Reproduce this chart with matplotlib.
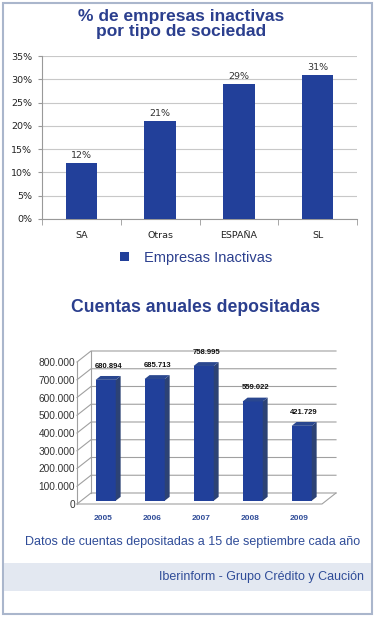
import matplotlib
matplotlib.use("Agg")
import matplotlib.pyplot as plt
from matplotlib.patches import Rectangle, Polygon
from matplotlib.ticker import FuncFormatter

# data
tipos = ["SA", "Otras", "ESPAÑA", "SL"]
pct_inactivas = [0.12, 0.21, 0.29, 0.31]
pct_labels = ["12%", "21%", "29%", "31%"]

years = ["2005", "2006", "2007", "2008", "2009"]
cuentas = [680894, 685713, 758995, 559022, 421729]

W, H = 375, 619
NAVY = "#2b3f8e"
BAR = "#22409a"
TXT_BLUE = "#2f4c98"

fig = plt.figure(figsize=(W / 100, H / 100), dpi=100)
fig.patch.set_facecolor("white")


def fx(px):
    return px / W


def fy(px):
    return 1 - px / H


def axes_px(l, t, r, b):
    return fig.add_axes([fx(l), fy(b), fx(r) - fx(l), fy(t) - fy(b)])


# frame + footer band
fig.patches.append(Rectangle((fx(3), fy(614)), fx(369), fy(3) - fy(614),
                             transform=fig.transFigure, fill=False,
                             edgecolor="#aab6cc", lw=1.5))
fig.patches.append(Rectangle((fx(4), fy(591)), fx(367), fy(563) - fy(591),
                             transform=fig.transFigure, facecolor="#e3e8f1",
                             edgecolor="none"))

# ---------- chart 1 ----------
fig.text(fx(181), fy(24), "% de empresas inactivas\npor tipo de sociedad",
         ha="center", va="center", fontsize=12.5, fontweight="bold",
         color=NAVY, family="Liberation Sans", linespacing=0.95)

ax1 = axes_px(42, 56, 357, 219)
x1 = range(len(tipos))
bars = ax1.bar(x1, pct_inactivas, width=0.4, color=BAR, zorder=3,
               label="Empresas Inactivas")
for i, v in enumerate(pct_inactivas):
    ax1.text(i, v + 0.006, pct_labels[i], ha="center", va="bottom",
             fontsize=6.8, color="#333333")
ax1.set_xlim(-0.5, 3.5)
ax1.set_ylim(0, 0.35)
ax1.set_yticks([i * 0.05 for i in range(8)])
ax1.yaxis.set_major_formatter(FuncFormatter(lambda v, p: f"{v * 100:.0f}%"))
ax1.set_xticks(list(x1))
ax1.set_xticklabels(tipos)
ax1.set_xticks([-0.5, 0.5, 1.5, 2.5, 3.5], minor=True)
ax1.tick_params(axis="x", which="major", length=0, pad=9, labelsize=6.8,
                labelcolor="#222222")
ax1.tick_params(axis="x", which="minor", length=4, color="#999999")
ax1.tick_params(axis="y", length=3, color="#999999", labelsize=6.8,
                labelcolor="#222222", pad=4)
ax1.grid(axis="y", color="#c8c8c8", lw=0.8, zorder=0)
for s in ["top", "right"]:
    ax1.spines[s].set_visible(False)
for s in ["left", "bottom"]:
    ax1.spines[s].set_color("#999999")
    ax1.spines[s].set_linewidth(0.8)
ax1.set_facecolor("none")

fig.legend(handles=[bars], loc="center", bbox_to_anchor=(fx(196), fy(258)),
           frameon=False, handlelength=0.6, handleheight=0.6,
           handletextpad=1.0, prop={"family": "Liberation Sans", "size": 10.5},
           labelcolor=NAVY)

# ---------- chart 2 (pseudo 3D) ----------
fig.text(fx(196), fy(307), "Cuentas anuales depositadas", ha="center",
         va="center", fontsize=12.7, fontweight="bold", color=NAVY,
         family="Liberation Sans")

ax2 = axes_px(77, 362, 322, 504)
ax2.set_xlim(-0.5, 4.5)
ax2.set_ylim(0, 800000)
ax2.set_facecolor("none")
for s in ax2.spines.values():
    s.set_visible(False)

dxc = 14 / 49          # depth offset in category units
dyv = 62000            # depth offset in value units
d0, d1 = 0.3, 0.65     # bar front / back depth
bw = 0.41
gcol = "#a0a0a0"

ticks2 = list(range(0, 800001, 100000))
for t in ticks2:
    ax2.plot([-0.5, -0.5 + dxc, 4.5 + dxc], [t, t + dyv, t + dyv],
             color=gcol, lw=0.8, clip_on=False, zorder=1)
ax2.plot([-0.5 + dxc, -0.5 + dxc], [dyv, 800000 + dyv], color=gcol, lw=0.8,
         clip_on=False, zorder=1)
ax2.plot([-0.5, -0.5], [0, 800000], color=gcol, lw=0.8, clip_on=False,
         zorder=1)
ax2.plot([-0.5, 4.5, 4.5 + dxc], [0, 0, dyv], color=gcol, lw=0.8,
         clip_on=False, zorder=1)

x2 = list(range(len(years)))
ax2.bar([i + d0 * dxc for i in x2], cuentas, width=bw, bottom=d0 * dyv,
        color="#21409a", zorder=4, clip_on=False)
for i, v in enumerate(cuentas):
    xl = i + d0 * dxc - bw / 2
    xr = i + d0 * dxc + bw / 2
    y0 = d0 * dyv
    ddx = (d1 - d0) * dxc
    ddy = (d1 - d0) * dyv
    side = Polygon([(xr, y0), (xr + ddx, y0 + ddy), (xr + ddx, y0 + ddy + v),
                    (xr, y0 + v)], closed=True, facecolor="#2c4275",
                   edgecolor="none", zorder=4, clip_on=False)
    top = Polygon([(xl, y0 + v), (xl + ddx, y0 + ddy + v),
                   (xr + ddx, y0 + ddy + v), (xr, y0 + v)], closed=True,
                  facecolor="#2a478f", edgecolor="none", zorder=4,
                  clip_on=False)
    ax2.add_patch(side)
    ax2.add_patch(top)
    ax2.text(i + d0 * dxc + ddx / 2, v + d1 * dyv + 55000,
             f"{v:,}".replace(",", "."), ha="center", va="center",
             fontsize=5.5, fontweight="bold", color="#111111",
             family="Liberation Sans", clip_on=False)
    ax2.text(i + 0.04, -84500, years[i], ha="center", va="center",
             fontsize=6, fontweight="bold", color=TXT_BLUE,
             family="Liberation Sans", clip_on=False)

ax2.set_xticks([])
ax2.set_yticks(ticks2)
ax2.yaxis.set_major_formatter(FuncFormatter(lambda v, p: f"{int(v):,}".replace(",", ".")))
ax2.tick_params(axis="y", length=0, pad=1.5, labelsize=7.3,
                labelcolor="#333333")
for lab in ax2.get_yticklabels():
    lab.set_family("Liberation Sans")

fig.text(fx(193), fy(542),
         "Datos de cuentas depositadas a 15 de septiembre cada año",
         ha="center", va="center", fontsize=9, color=TXT_BLUE,
         family="Liberation Sans")
fig.text(fx(364), fy(577), "Iberinform - Grupo Crédito y Caución",
         ha="right", va="center", fontsize=9, color=TXT_BLUE,
         family="Liberation Sans")

fig.savefig("out.png", dpi=100, facecolor="white")
